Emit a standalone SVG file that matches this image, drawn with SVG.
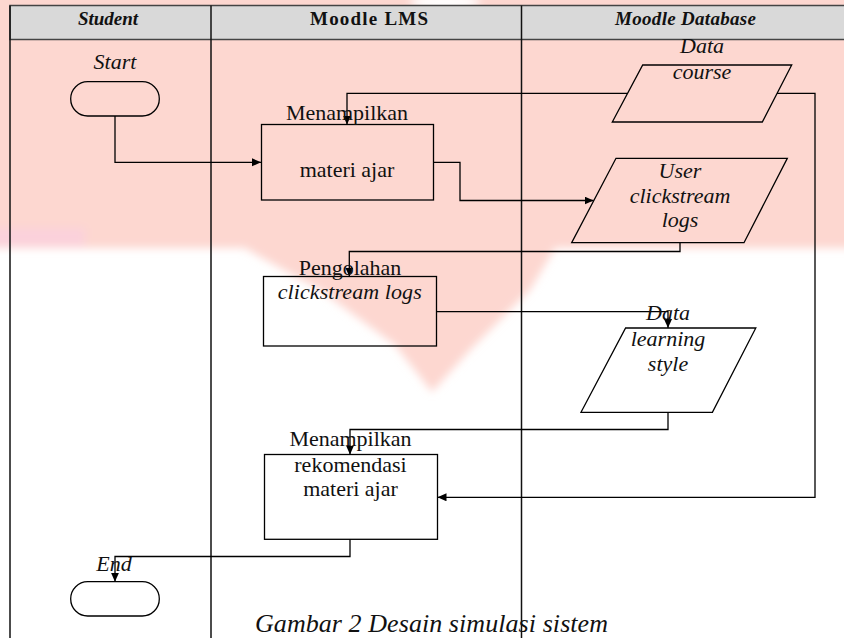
<svg xmlns="http://www.w3.org/2000/svg" width="844" height="638" viewBox="0 0 844 638">
<defs>
  <filter id="blur" x="-20%" y="-20%" width="140%" height="140%"><feGaussianBlur stdDeviation="4"/></filter>
  <marker id="arr" markerWidth="10" markerHeight="10" refX="9" refY="4" orient="auto" markerUnits="userSpaceOnUse">
    <path d="M0,0 L9,4 L0,8 Z" fill="#000"/>
  </marker>
  <style>
    text{font-family:"Liberation Serif","Times New Roman",serif;fill:#111;}
    .hd{font-size:19px;font-weight:bold;}
    .lb{font-size:22px;}
    .it{font-style:italic;}
    .node{fill:none;stroke:#000;stroke-width:1.3;}
    .para{fill:none;stroke:#000;stroke-width:1.3;}
    .lane{stroke:#111;stroke-width:1.5;fill:none;}
    .conn path{fill:none;stroke:#000;stroke-width:1.3;}
    .cap{font-size:26px;font-style:italic;}
  </style>
</defs>
<!-- background / watermark -->
<rect x="0" y="0" width="844" height="638" fill="#ffffff"/>
<g id="watermark" filter="url(#blur)">
  <rect x="-10" y="-10" width="864" height="258" fill="#fdd7d0"/>
  <polygon points="230,240 560,240 530,290 470,350 432,392 395,345 320,290" fill="#fdd7d0"/>
  <rect x="-10" y="228" width="95" height="18" fill="#f9cfe0" opacity="0.7"/>
  <ellipse cx="445" cy="2" rx="35" ry="8" fill="#ffffff"/>
</g>
<!-- swimlane frame -->
<g id="lanes">
  <rect x="10" y="5.5" width="840" height="34" fill="#d9d9d9" stroke="#444" stroke-width="1.5"/>
  <line class="lane" x1="10" y1="5.5" x2="10" y2="640"/>
  <line class="lane" x1="211" y1="5.5" x2="211" y2="640"/>
  <line class="lane" x1="521.5" y1="5.5" x2="521.5" y2="640"/>
  <text class="hd it" x="108" y="25" text-anchor="middle">Student</text>
  <text class="hd" x="369" y="25" text-anchor="middle" textLength="118">Moodle LMS</text>
  <text class="hd it" x="685.5" y="25" text-anchor="middle" textLength="141">Moodle Database</text>
</g>
<!-- connectors -->
<g id="connectors" class="conn">
  <path d="M115,116 V162.3 H261" marker-end="url(#arr)"/>
  <path d="M627.5,93.3 H347 V124.5" marker-end="url(#arr)"/>
  <path d="M433.5,162.3 H460 V200.5 H593.5" marker-end="url(#arr)"/>
  <path d="M680,242.7 V251.5 H349.3 V276.5" marker-end="url(#arr)"/>
  <path d="M436.5,311.7 H668 V328" marker-end="url(#arr)"/>
  <path d="M668,412.3 V429.5 H350 V454.5" marker-end="url(#arr)"/>
  <path d="M777,93.3 H815 V497.3 H437.5" marker-end="url(#arr)"/>
  <path d="M350,539.3 V556.5 H115 V581.7" marker-end="url(#arr)"/>
</g>
<!-- nodes -->
<g id="start">
  <rect class="node" x="70.7" y="81.7" width="88.6" height="34.3" rx="17" ry="17"/>
  <text class="lb it" x="115" y="69.3" text-anchor="middle">Start</text>
</g>
<g id="menampilkan-materi">
  <rect class="node" x="261.5" y="124.5" width="172" height="75.5"/>
  <text class="lb" x="347" y="120" text-anchor="middle">Menampilkan</text>
  <text class="lb" x="347" y="177" text-anchor="middle">materi ajar</text>
</g>
<g id="data-course">
  <polygon class="para" points="642.7,65 791.7,65 762.3,122 612.3,122"/>
  <text class="lb it" x="702" y="52.7" text-anchor="middle">Data</text>
  <text class="lb it" x="702" y="78.5" text-anchor="middle">course</text>
</g>
<g id="user-clickstream">
  <polygon class="para" points="616,158.3 787.3,158.3 744,242.7 571.7,242.7"/>
  <text class="lb it" x="680" y="177.7" text-anchor="middle">User</text>
  <text class="lb it" x="680" y="202.7" text-anchor="middle">clickstream</text>
  <text class="lb it" x="680" y="227.3" text-anchor="middle">logs</text>
</g>
<g id="pengolahan">
  <rect class="node" x="263.5" y="276.5" width="173" height="69.5"/>
  <text class="lb" x="350" y="275" text-anchor="middle">Pengolahan</text>
  <text class="lb it" x="349.7" y="299.3" text-anchor="middle" textLength="144">clickstream logs</text>
</g>
<g id="learning-style">
  <polygon class="para" points="625.6,328 755.8,328 712.4,412.3 581,412.3"/>
  <text class="lb it" x="668" y="320" text-anchor="middle">Data</text>
  <text class="lb it" x="668" y="345.5" text-anchor="middle">learning</text>
  <text class="lb it" x="668" y="371" text-anchor="middle">style</text>
</g>
<g id="rekomendasi">
  <rect class="node" x="264.5" y="454.5" width="173" height="84.8"/>
  <text class="lb" x="350.5" y="445.7" text-anchor="middle">Menampilkan</text>
  <text class="lb" x="350.5" y="471.7" text-anchor="middle">rekomendasi</text>
  <text class="lb" x="350.5" y="496" text-anchor="middle">materi ajar</text>
</g>
<g id="end">
  <rect class="node" x="70.7" y="581.7" width="88.6" height="34.3" rx="17" ry="17"/>
  <text class="lb it" x="114" y="571" text-anchor="middle">End</text>
</g>
<text class="cap" x="255" y="632" textLength="353">Gambar 2 Desain simulasi sistem</text>
</svg>
